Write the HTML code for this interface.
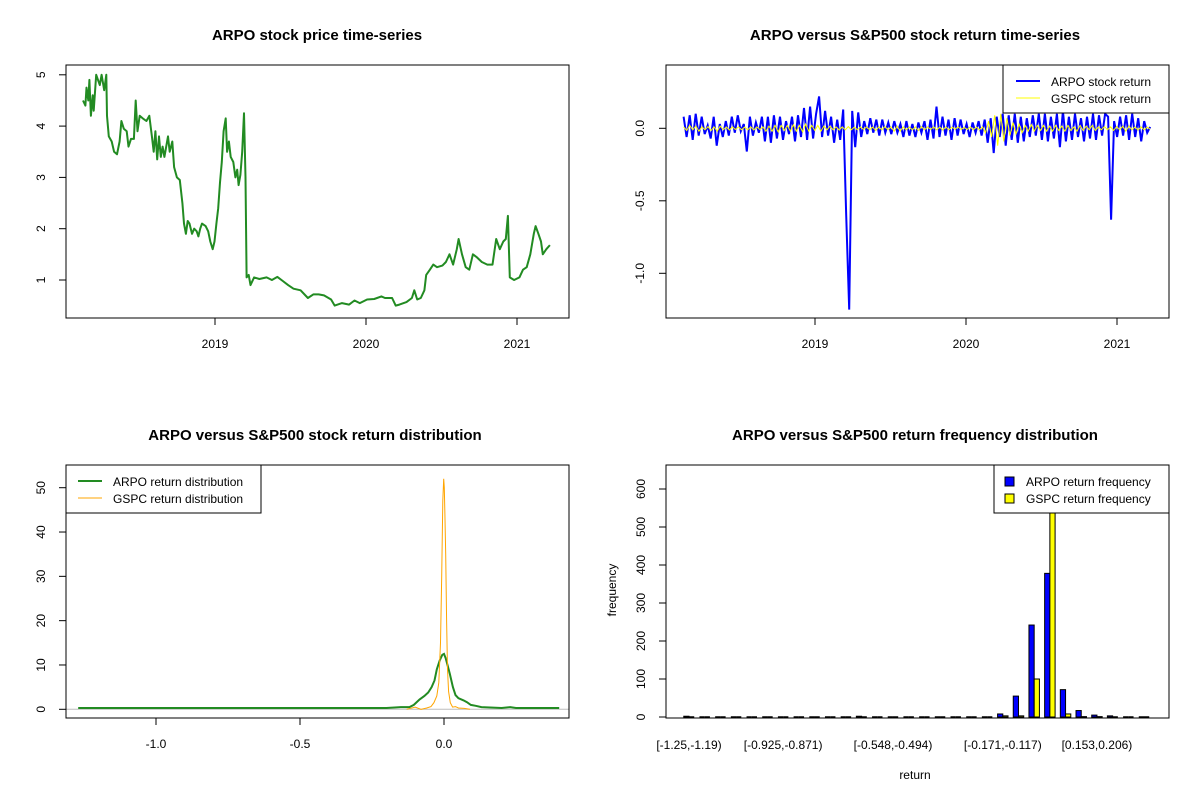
<!DOCTYPE html>
<html><head><meta charset="utf-8"><style>
html,body{margin:0;padding:0;background:#fff}
svg{display:block;font-family:"Liberation Sans",Arial,sans-serif}
</style></head><body>
<svg id="c" width="1200" height="800" viewBox="0 0 1200 800" xmlns="http://www.w3.org/2000/svg"></svg>
<script>
// ---------- Panel 1: price ----------
const priceDates=[2018.126,2018.142,2018.149,2018.161,2018.168,2018.178,2018.190,2018.197,2018.213,2018.225,2018.237,2018.249,2018.266,2018.280,2018.285,2018.297,2018.316,2018.332,2018.351,2018.368,2018.380,2018.396,2018.415,2018.427,2018.444,2018.463,2018.475,2018.487,2018.501,2018.522,2018.546,2018.565,2018.582,2018.594,2018.605,2018.617,2018.629,2018.641,2018.653,2018.665,2018.689,2018.700,2018.717,2018.729,2018.748,2018.767,2018.784,2018.795,2018.807,2018.819,2018.831,2018.848,2018.862,2018.879,2018.890,2018.902,2018.914,2018.938,2018.955,2018.969,2018.985,2018.997,2019.009,2019.021,2019.033,2019.045,2019.057,2019.071,2019.080,2019.092,2019.104,2019.121,2019.135,2019.147,2019.156,2019.168,2019.180,2019.192,2019.202,2019.209,2019.223,2019.235,2019.259,2019.294,2019.342,2019.377,2019.413,2019.449,2019.484,2019.520,2019.567,2019.615,2019.651,2019.686,2019.722,2019.769,2019.793,2019.841,2019.888,2019.924,2019.959,2020.007,2020.054,2020.102,2020.126,2020.173,2020.197,2020.221,2020.268,2020.304,2020.320,2020.339,2020.363,2020.387,2020.399,2020.423,2020.446,2020.470,2020.506,2020.529,2020.553,2020.577,2020.601,2020.613,2020.636,2020.660,2020.684,2020.708,2020.731,2020.767,2020.803,2020.838,2020.862,2020.886,2020.909,2020.926,2020.940,2020.952,2020.981,2021.016,2021.040,2021.064,2021.088,2021.111,2021.123,2021.142,2021.159,2021.171,2021.194,2021.218];
const priceValues=[4.5,4.4,4.75,4.5,4.9,4.2,4.6,4.3,5.0,4.9,4.8,5.0,4.7,5.0,4.2,3.8,3.7,3.5,3.45,3.7,4.1,3.95,3.9,3.6,3.75,3.75,4.5,3.9,4.2,4.15,4.1,4.2,3.8,3.5,3.9,3.35,3.8,3.4,3.6,3.4,3.8,3.5,3.7,3.2,3.0,2.95,2.5,2.1,1.9,2.15,2.1,1.9,2.0,1.95,1.85,2.0,2.1,2.05,1.95,1.75,1.6,1.75,2.1,2.4,2.9,3.3,3.9,4.15,3.5,3.7,3.4,3.3,3.0,3.15,2.85,3.05,3.5,4.25,3.0,1.05,1.1,0.9,1.05,1.02,1.05,1.0,1.06,0.98,0.9,0.83,0.8,0.65,0.72,0.72,0.7,0.62,0.5,0.55,0.52,0.6,0.55,0.62,0.63,0.68,0.65,0.65,0.5,0.52,0.57,0.65,0.8,0.62,0.65,0.8,1.1,1.2,1.3,1.25,1.28,1.35,1.5,1.3,1.6,1.8,1.5,1.25,1.2,1.5,1.45,1.35,1.3,1.3,1.8,1.6,1.75,1.8,2.25,1.05,1.0,1.05,1.2,1.25,1.5,1.9,2.05,1.9,1.75,1.5,1.6,1.68];
const yearTicks=[2019,2020,2021];
const priceTicks=[1,2,3,4,5];
// ---------- Panel 2: returns ----------
const retStart=2018.13, retEnd=2021.22;
const arpoReturns=[0.08,-0.06,0.09,-0.08,0.1,-0.05,0.08,-0.04,0.02,-0.07,0.08,-0.12,0.03,-0.06,0.05,-0.05,0.08,-0.03,0.09,-0.02,0.03,-0.16,0.08,-0.05,0.04,-0.03,0.08,-0.09,0.08,-0.1,0.09,-0.07,0.08,-0.08,0.05,-0.04,0.08,-0.09,0.09,-0.06,0.14,-0.08,0.15,-0.07,0.1,0.22,-0.06,0.12,-0.05,0.08,-0.1,0.06,-0.08,0.13,-0.6,-1.25,0.12,-0.13,0.11,-0.06,0.05,-0.04,0.07,-0.03,0.06,-0.05,0.06,-0.03,0.04,-0.04,0.05,-0.03,0.03,-0.06,0.05,-0.05,0.03,-0.06,0.04,-0.03,0.05,-0.08,0.06,-0.07,0.15,-0.06,0.08,-0.05,0.06,-0.08,0.07,-0.05,0.06,-0.04,0.03,-0.06,0.04,-0.03,0.05,-0.05,0.06,-0.1,0.07,-0.17,0.08,-0.06,0.1,-0.12,0.09,-0.08,0.1,-0.1,0.08,-0.09,0.07,-0.06,0.09,-0.05,0.1,-0.08,0.1,-0.09,0.08,-0.07,0.1,-0.13,0.12,-0.09,0.08,-0.08,0.1,-0.06,0.07,-0.09,0.08,-0.07,0.1,-0.08,0.09,-0.05,0.1,0.08,-0.63,0.05,-0.06,0.08,-0.05,0.09,-0.08,0.1,-0.06,0.07,-0.09,0.05,-0.03,0.01];
const gspcReturns=[0.01,-0.015,0.02,-0.01,0.015,-0.02,0.01,-0.01,0.012,-0.015,0.01,-0.02,0.015,-0.01,0.01,-0.012,0.01,-0.008,0.01,-0.01,0.008,-0.01,0.01,-0.012,0.01,-0.008,0.01,-0.02,0.015,-0.02,0.02,-0.025,0.02,-0.015,0.02,-0.02,0.025,-0.02,0.02,-0.025,0.03,-0.02,0.02,-0.015,0.02,-0.02,0.015,-0.01,0.015,-0.01,0.01,-0.012,0.01,-0.01,0.012,-0.01,0.008,-0.01,0.01,-0.008,0.01,-0.01,0.008,-0.015,0.01,-0.01,0.012,-0.01,0.01,-0.02,0.015,-0.02,0.01,-0.01,0.008,-0.01,0.01,-0.015,0.012,-0.01,0.01,-0.008,0.01,-0.01,0.008,-0.012,0.01,-0.01,0.008,-0.006,0.01,-0.008,0.006,-0.008,0.01,-0.01,0.008,-0.01,0.01,-0.03,0.05,-0.06,0.09,-0.12,0.1,-0.09,0.07,-0.05,0.04,-0.04,0.03,-0.03,0.02,-0.02,0.025,-0.02,0.02,-0.015,0.02,-0.02,0.015,-0.02,0.02,-0.015,0.015,-0.02,0.02,-0.015,0.01,-0.02,0.02,-0.015,0.015,-0.01,0.02,-0.015,0.01,-0.01,0.012,-0.01,0.01,-0.015,0.012,-0.01,0.015,-0.02,0.015,-0.01,0.01,-0.012,0.01,-0.01,0.008,-0.006];
const retTicks=[0,-0.5,-1.0];
const retTickLabels=["0.0","-0.5","-1.0"];
// ---------- Panel 3: densities ----------
const arpoDensX=[-1.27,-0.2,-0.15,-0.12,-0.105,-0.085,-0.068,-0.055,-0.043,-0.033,-0.025,-0.015,-0.006,0,0.006,0.012,0.02,0.031,0.04,0.05,0.068,0.08,0.093,0.11,0.13,0.16,0.2,0.23,0.25,0.4];
const arpoDensY=[0.3,0.3,0.5,0.5,1.0,2.2,3.0,3.8,5.0,6.5,9.0,11,12.3,12.5,11.5,10,8,5,3.2,2.5,2.0,1.6,1.0,0.8,0.5,0.4,0.3,0.5,0.3,0.3];
const gspcDensX=[-0.13,-0.1,-0.08,-0.06,-0.045,-0.035,-0.025,-0.018,-0.012,-0.008,-0.004,-0.001,0.001,0.003,0.006,0.009,0.012,0.016,0.022,0.03,0.04,0.05,0.07,0.09];
const gspcDensY=[0,0.5,0,0.3,0.6,1.5,3,6,15,30,47,52,50,44,35,20,9,4,1.5,0.5,0.6,0.3,0.2,0];
const densXTicks=[-1.0,-0.5,0.0];
const densXLabels=["-1.0","-0.5","0.0"];
const densYTicks=[0,10,20,30,40,50];
// ---------- Panel 4: histogram ----------
const arpoFreq=[2,0,0,0,0,0,0,0,0,0,0,2,0,0,0,0,0,0,0,0,8,55,242,378,72,17,5,3,0,0];
const gspcFreq=[0,0,0,0,0,0,0,0,0,0,0,0,0,0,0,0,0,0,0,0,3,3,100,640,8,1,1,0,0,0];
const binLabelIdx=[0,6,13,20,26];
const binLabels=["[-1.25,-1.19)","[-0.925,-0.871)","[-0.548,-0.494)","[-0.171,-0.117)","[0.153,0.206)"];
const freqTicks=[0,100,200,300,400,500,600];

const NS="http://www.w3.org/2000/svg";
const svg=document.getElementById('c');
function mk(tag,attrs,parent){const e=document.createElementNS(NS,tag);for(const k in attrs)e.setAttribute(k,attrs[k]);(parent||svg).appendChild(e);return e;}
function txt(s,x,y,attrs,parent){const t=mk('text',Object.assign({x:x,y:y,'font-size':12,fill:'#000','text-anchor':'middle'},attrs||{}),parent);t.textContent=s;return t;}
function ytxt(s,x,y,parent){return txt(s,x,y,{transform:`rotate(-90 ${x} ${y})`,'dominant-baseline':'middle'},parent);}
function grp(name){const g=mk('g',{});return g;}
function box(x0,y0,x1,y1,g){const r=mk('rect',{x:x0,y:y0,width:x1-x0,height:y1-y0,fill:'none',stroke:'#000','stroke-width':1},g);}

// Panel 1
(function(){
 const g=grp('price-panel');
 const L=66,R=569,T=65,B=318;
 const X=v=>215+(v-2019)*151, Y=v=>280-(v-1)*51.3;
 const t=txt('ARPO stock price time-series',317,40,{'font-size':15,'font-weight':'bold'},g);
 const ax=grp('price-y-axis');g.appendChild(ax);
 mk('line',{x1:L,x2:L,y1:Y(1),y2:Y(5),stroke:'#000'},ax);
 priceTicks.forEach(v=>{mk('line',{x1:L-7,x2:L,y1:Y(v),y2:Y(v),stroke:'#000'},ax);ytxt(String(v),42,Y(v),ax);});
 const xa=grp('price-x-axis');g.appendChild(xa);
 mk('line',{x1:X(2019),x2:X(2021),y1:B,y2:B,stroke:'#000'},xa);
 yearTicks.forEach(v=>{mk('line',{x1:X(v),x2:X(v),y1:B,y2:B+7,stroke:'#000'},xa);txt(String(v),X(v),348,{},xa);});
 const p=mk('polyline',{points:priceDates.map((d,i)=>X(d).toFixed(1)+','+Y(priceValues[i]).toFixed(1)).join(' '),fill:'none',stroke:'#228B22','stroke-width':2,'stroke-linejoin':'round'},g);
 
 box(L,T,R,B,g);
})();

// Panel 2
(function(){
 const g=grp('return-panel');
 const L=666,R=1169,T=65,B=318;
 const X=v=>815+(v-2019)*151, Y=v=>128.3-v*145;
 const t=txt('ARPO versus S&P500 stock return time-series',915,40,{'font-size':15,'font-weight':'bold'},g);
 const ax=grp('return-y-axis');g.appendChild(ax);
 mk('line',{x1:L,x2:L,y1:Y(0),y2:Y(-1),stroke:'#000'},ax);
 retTicks.forEach((v,i)=>{mk('line',{x1:L-7,x2:L,y1:Y(v),y2:Y(v),stroke:'#000'},ax);ytxt(retTickLabels[i],641,Y(v),ax);});
 const xa=grp('return-x-axis');g.appendChild(xa);
 mk('line',{x1:X(2019),x2:X(2021),y1:B,y2:B,stroke:'#000'},xa);
 yearTicks.forEach(v=>{mk('line',{x1:X(v),x2:X(v),y1:B,y2:B+7,stroke:'#000'},xa);txt(String(v),X(v),348,{},xa);});
 const n=arpoReturns.length, step=(retEnd-retStart)/(n-1);
 const a=mk('polyline',{points:arpoReturns.map((v,i)=>X(retStart+i*step).toFixed(1)+','+Y(v).toFixed(1)).join(' '),fill:'none',stroke:'#0000FF','stroke-width':2},g);
 
 const m=gspcReturns.length, step2=(retEnd-retStart)/(m-1);
 const b=mk('polyline',{points:gspcReturns.map((v,i)=>X(retStart+i*step2).toFixed(1)+','+Y(v).toFixed(1)).join(' '),fill:'none',stroke:'#FFFF00','stroke-width':1},g);
 
 box(L,T,R,B,g);
 const lg=grp('return-legend');g.appendChild(lg);
 mk('rect',{x:1003,y:65,width:166,height:48,fill:'#fff',stroke:'#000'},lg);
 mk('line',{x1:1016,x2:1040,y1:81,y2:81,stroke:'#0000FF','stroke-width':2},lg);
 mk('line',{x1:1016,x2:1040,y1:98,y2:98,stroke:'#FFFF00','stroke-width':1},lg);
 txt('ARPO stock return',1051,86,{'text-anchor':'start'},lg);
 txt('GSPC stock return',1051,103,{'text-anchor':'start'},lg);
})();

// Panel 3
(function(){
 const g=grp('density-panel');
 const L=66,R=569,T=465,B=718;
 const X=v=>444+v*288, Y=v=>709.3-v*4.432;
 const t=txt('ARPO versus S&P500 stock return distribution',315,440,{'font-size':15,'font-weight':'bold'},g);
 const ax=grp('density-y-axis');g.appendChild(ax);
 mk('line',{x1:L,x2:L,y1:Y(0),y2:Y(50),stroke:'#000'},ax);
 densYTicks.forEach(v=>{mk('line',{x1:L-7,x2:L,y1:Y(v),y2:Y(v),stroke:'#000'},ax);ytxt(String(v),42,Y(v),ax);});
 const xa=grp('density-x-axis');g.appendChild(xa);
 mk('line',{x1:X(-1),x2:X(0),y1:B,y2:B,stroke:'#000'},xa);
 densXTicks.forEach((v,i)=>{mk('line',{x1:X(v),x2:X(v),y1:B,y2:B+7,stroke:'#000'},xa);txt(densXLabels[i],X(v),748,{},xa);});
 const base=mk('line',{x1:L,x2:R,y1:Y(0),y2:Y(0),stroke:'#bebebe','stroke-width':1},g);
 
 const gl=mk('polyline',{points:arpoDensX.map((x,i)=>X(x).toFixed(1)+','+Y(arpoDensY[i]).toFixed(1)).join(' '),fill:'none',stroke:'#228B22','stroke-width':2},g);
 
 const ol=mk('polyline',{points:gspcDensX.map((x,i)=>X(x).toFixed(1)+','+Y(gspcDensY[i]).toFixed(1)).join(' '),fill:'none',stroke:'#FFA500','stroke-width':1},g);
 
 box(L,T,R,B,g);
 const lg=grp('density-legend');g.appendChild(lg);
 mk('rect',{x:66,y:465,width:195,height:48,fill:'#fff',stroke:'#000'},lg);
 mk('line',{x1:78,x2:102,y1:481,y2:481,stroke:'#228B22','stroke-width':2},lg);
 mk('line',{x1:78,x2:102,y1:498,y2:498,stroke:'#FFA500','stroke-width':1},lg);
 txt('ARPO return distribution',113,486,{'text-anchor':'start'},lg);
 txt('GSPC return distribution',113,503,{'text-anchor':'start'},lg);
})();

// Panel 4
(function(){
 const g=grp('histogram-panel');
 const L=666,R=1169,T=465,B=718;
 const C=i=>689+i*15.69, W=5.23, Y=v=>717-v*0.38;
 const t=txt('ARPO versus S&P500 return frequency distribution',915,440,{'font-size':15,'font-weight':'bold'},g);
 const ax=grp('freq-y-axis');g.appendChild(ax);
 mk('line',{x1:L,x2:L,y1:Y(0),y2:Y(600),stroke:'#000'},ax);
 freqTicks.forEach(v=>{mk('line',{x1:L-7,x2:L,y1:Y(v),y2:Y(v),stroke:'#000'},ax);ytxt(String(v),642,Y(v),ax);});
 const yl=ytxt('frequency',613,590,g);
 const xl=txt('return',915,779,{},g);
 const xa=grp('freq-x-axis');g.appendChild(xa);
 binLabelIdx.forEach((i,k)=>txt(binLabels[k],C(i),749,{},xa));
 function bar(x,v,color,name){
  if(v<=0){
   const l=mk('line',{x1:x,x2:x+W,y1:Y(0),y2:Y(0),stroke:'#000','stroke-width':1.5},g);
   
  } else {
   const r=mk('rect',{x:x,y:Y(v),width:W,height:Y(0)-Y(v),fill:color,stroke:'#000','stroke-width':1},g);
   
  }
 }
 arpoFreq.forEach((v,i)=>bar(C(i)-W,v,'#0000FF','arpo-bar'));
 gspcFreq.forEach((v,i)=>bar(C(i),v,'#FFFF00','gspc-bar'));
 box(L,T,R,B,g);
 const lg=grp('histogram-legend');g.appendChild(lg);
 mk('rect',{x:994,y:465,width:175,height:48,fill:'#fff',stroke:'#000'},lg);
 mk('rect',{x:1005,y:477,width:9,height:9,fill:'#0000FF',stroke:'#000'},lg);
 mk('rect',{x:1005,y:494,width:9,height:9,fill:'#FFFF00',stroke:'#000'},lg);
 txt('ARPO return frequency',1026,486,{'text-anchor':'start'},lg);
 txt('GSPC return frequency',1026,503,{'text-anchor':'start'},lg);
})();
</script>
</body></html>
